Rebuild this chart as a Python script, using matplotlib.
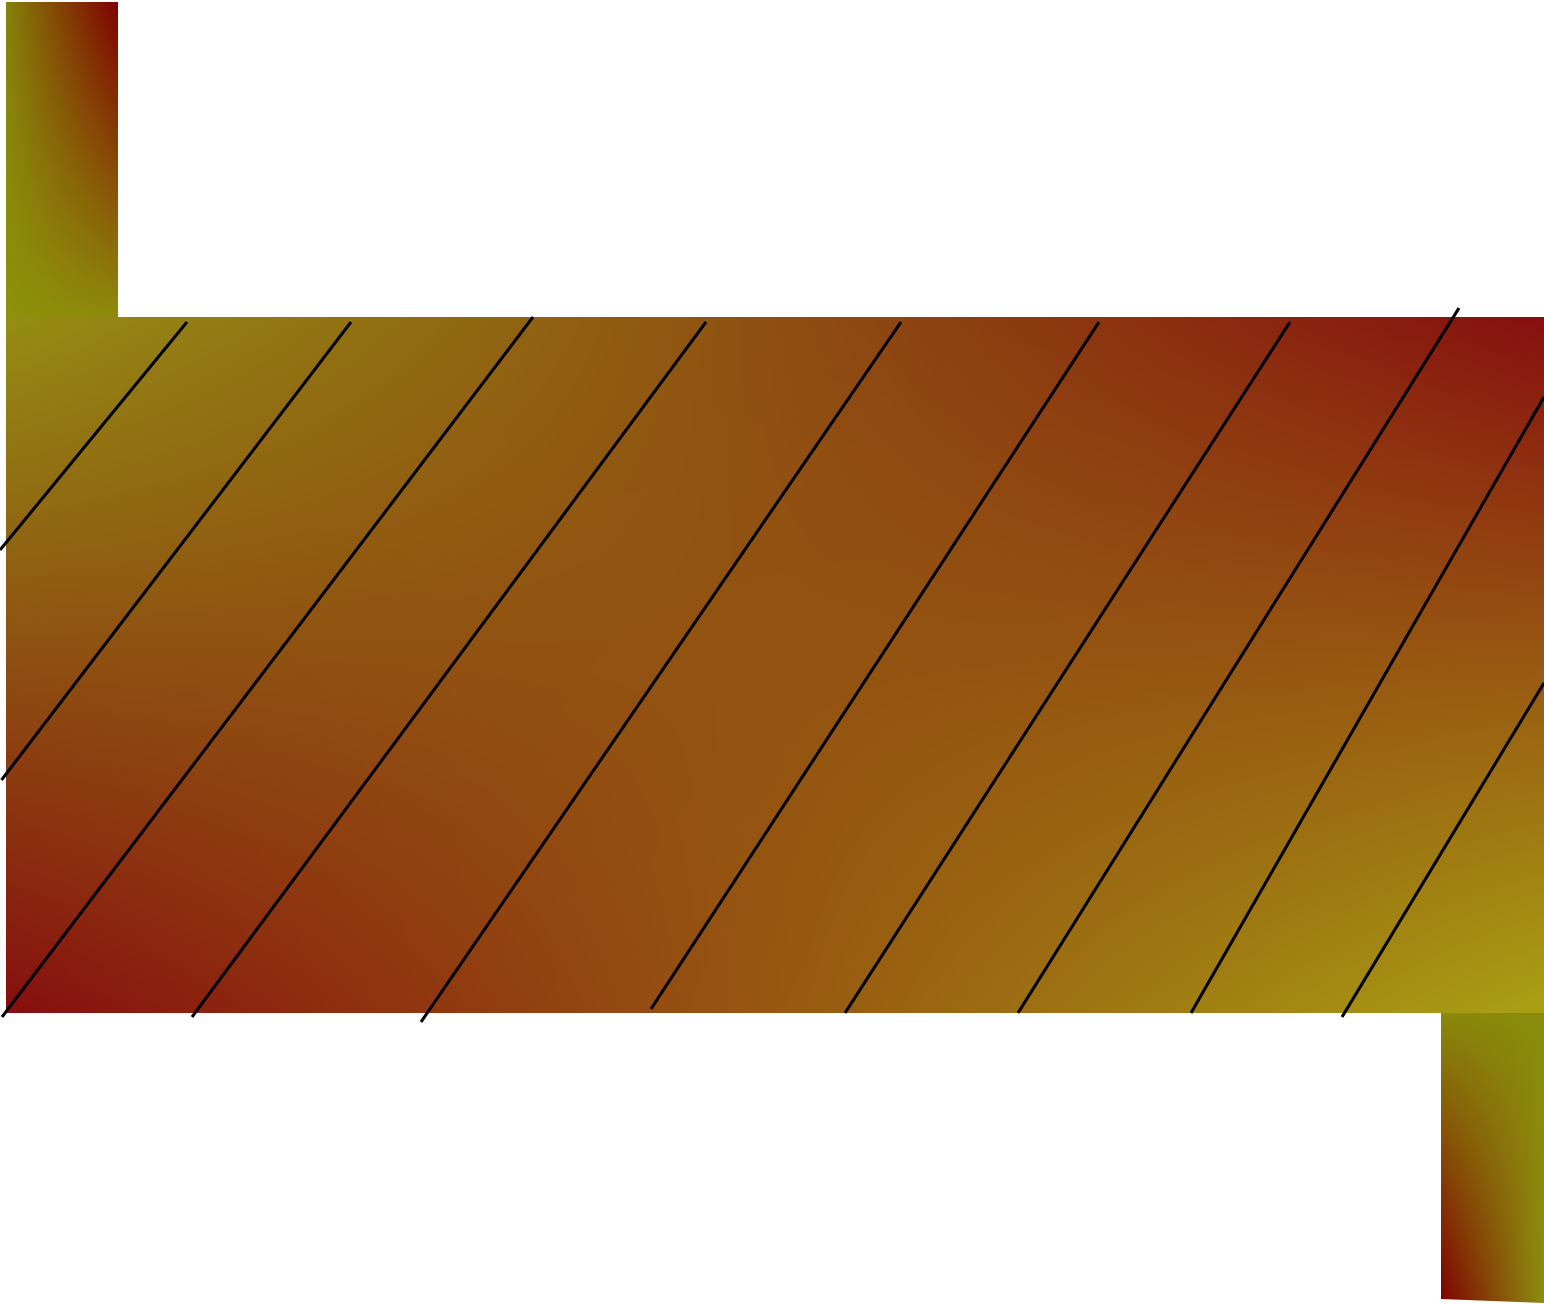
import matplotlib
matplotlib.use("Agg")
import matplotlib.pyplot as plt
from matplotlib.patches import Polygon
import numpy as np

# body of the exchanger and the two nozzles (pixel space, y down)
shell = [6, 1544, 317, 1013]          # x0, x1, y_top, y_bottom
inlet = [6, 118, 2, 317]
outlet = [1441, 1544, 1013, 1303]
outlet_outline = [(1441, 1013), (1544, 1013), (1544, 1303), (1441, 1299)]

# corner colours: top-left, top-right, bottom-left, bottom-right
shell_colors = ["#958e14", "#88100f", "#870f0f", "#a9a114"]
inlet_colors = ["#86820a", "#800000", "#8e920c", "#8f8a0c"]
outlet_colors = ["#8a8a0c", "#8a8c0c", "#800000", "#8e8e10"]

# the diagonal baffle lines: lower end -> upper end
line_x0 = [0, 1.5, 2, 192, 421, 651, 845, 1018, 1191, 1342]
line_y0 = [550, 780, 1017, 1017, 1022, 1009, 1013, 1013, 1013, 1017]
line_x1 = [187, 351, 533, 706, 901, 1099, 1290, 1459, 1544, 1544]
line_y1 = [322, 322, 317, 322, 322, 322, 322, 308, 397, 683]


def rgb(h):
    h = h.lstrip("#")
    return np.array([int(h[i:i + 2], 16) / 255 for i in (0, 2, 4)])


def gradient(colors, n=200):
    tl, tr, bl, br = [rgb(c) for c in colors]
    u = np.linspace(0, 1, n)[None, :, None]
    v = np.linspace(0, 1, n)[:, None, None]
    top = tl * (1 - u) + tr * u
    bot = bl * (1 - u) + br * u
    return top * (1 - v) + bot * v


fig = plt.figure(figsize=(15.44, 13.04), dpi=100)
ax = fig.add_axes([0, 0, 1, 1])
ax.set_xlim(0, 1544)
ax.set_ylim(1304, 0)
ax.axis("off")

for box, cols in [(shell, shell_colors), (inlet, inlet_colors)]:
    ax.imshow(gradient(cols), extent=[box[0], box[1], box[3], box[2]],
              interpolation="bilinear", aspect="auto", zorder=1)

im = ax.imshow(gradient(outlet_colors),
               extent=[outlet[0], outlet[1], outlet[3], outlet[2]],
               interpolation="bilinear", aspect="auto", zorder=1)
clip = Polygon(outlet_outline, closed=True, transform=ax.transData,
               facecolor="none", edgecolor="none")
ax.add_patch(clip)
im.set_clip_path(clip)

for xa, ya, xb, yb in zip(line_x0, line_y0, line_x1, line_y1):
    ax.plot([xa, xb], [ya, yb], color="black", lw=2.2, zorder=3,
            solid_capstyle="butt")

ax.set_xlim(0, 1544)
ax.set_ylim(1304, 0)
fig.savefig("out.png", dpi=100)
